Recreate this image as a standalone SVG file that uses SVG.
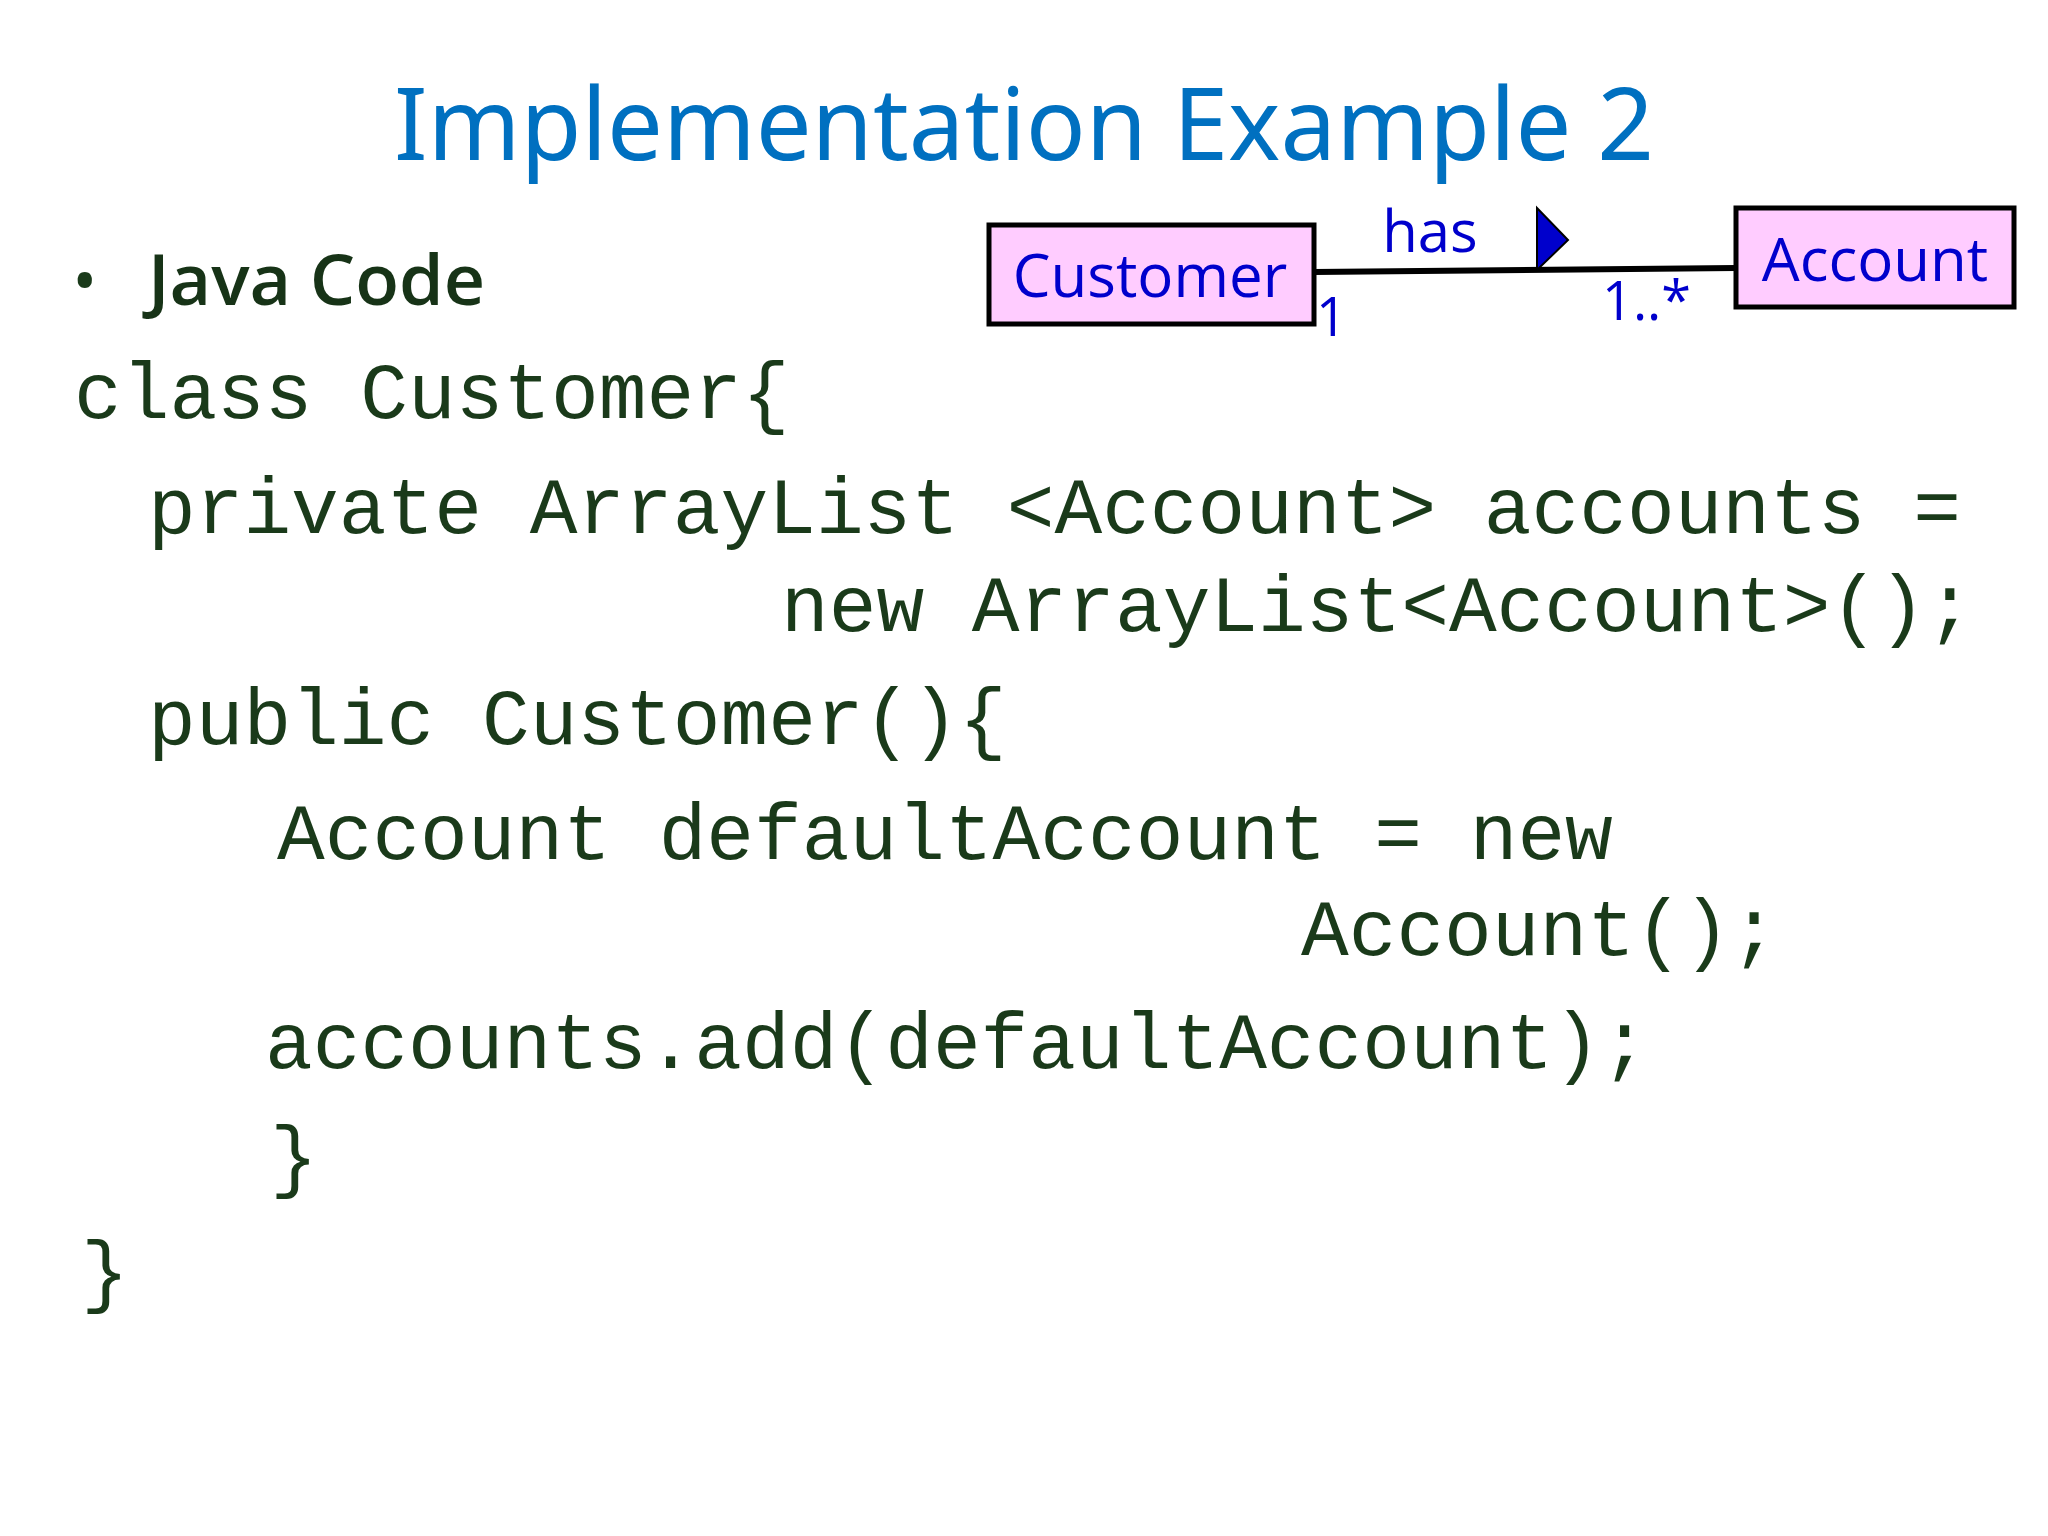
<svg xmlns="http://www.w3.org/2000/svg" width="2048" height="1536" viewBox="0 0 2048 1536">
<style>
.code{font-family:"Liberation Mono","Courier New",monospace;font-size:79.5px;fill:#1a3a1a}
.uml{font-family:"Open Sans","Noto Sans",sans-serif;fill:#0000CC}
.box{fill:#FFCCFF;stroke:#000;stroke-width:5}
</style>
<rect width="2048" height="1536" fill="#fff"/>
<text x="1024" y="160" text-anchor="middle" font-family="'Noto Sans','Open Sans',sans-serif" font-size="100" fill="#0070C0" textLength="1260" lengthAdjust="spacingAndGlyphs">Implementation Example 2</text>
<text x="72" y="305" font-family="'Open Sans','Noto Sans',sans-serif" font-size="68" fill="#1a3a1a">•</text>
<text x="148" y="305" font-family="'Open Sans','Noto Sans',sans-serif" font-size="70" font-weight="600" fill="#173317" textLength="337" lengthAdjust="spacingAndGlyphs">Java Code</text>
<g id="connectors">
<line x1="1314" y1="272" x2="1736" y2="268" stroke="#000" stroke-width="6"/>
<polygon points="1537,208 1568,240 1537,270" fill="#0000CC" stroke="#000" stroke-width="2"/>
<text class="uml" x="1430" y="252" font-size="58" text-anchor="middle">has</text>
<text class="uml" x="1316" y="336" font-size="54">1</text>
<text class="uml" x="1602" y="320" font-size="54">1..*</text>
</g>
<g id="customer">
<rect class="box" x="989" y="225" width="325" height="99"/>
<text class="uml" x="1150" y="297" font-size="60" text-anchor="middle">Customer</text>
</g>
<g id="account">
<rect class="box" x="1736" y="208" width="278" height="99"/>
<text class="uml" x="1875" y="281" font-size="60" text-anchor="middle">Account</text>
</g>
<text class="code" x="74" y="418">class Customer{</text>
<text class="code" x="148" y="533">private ArrayList &lt;Account&gt; accounts =</text>
<text class="code" x="781" y="631">new ArrayList&lt;Account&gt;();</text>
<text class="code" x="148" y="744">public Customer(){</text>
<text class="code" x="277" y="859">Account defaultAccount = new</text>
<text class="code" x="1301" y="955">Account();</text>
<text class="code" x="265" y="1068">accounts.add(defaultAccount);</text>
<text class="code" x="270" y="1182">}</text>
<text class="code" x="81" y="1297">}</text>
</svg>
